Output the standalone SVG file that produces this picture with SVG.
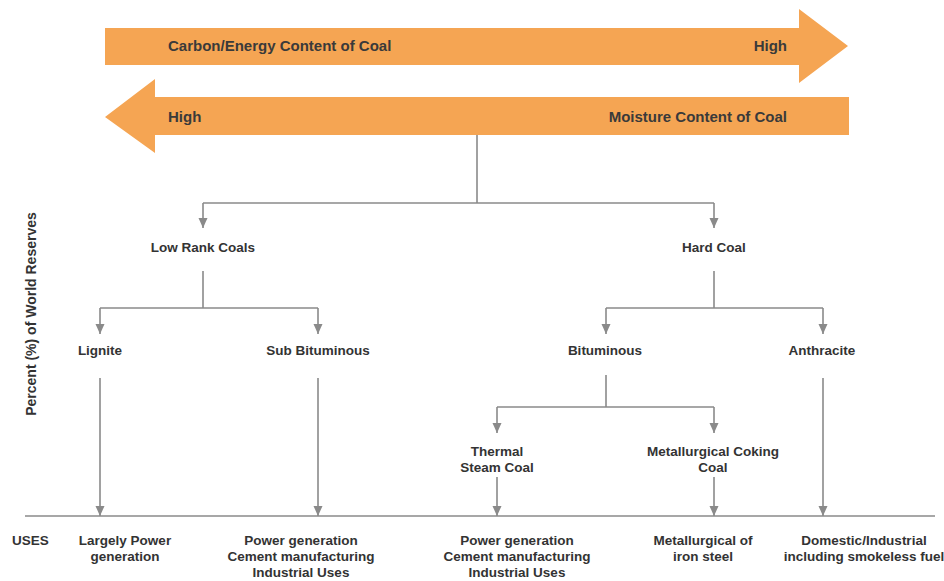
<svg xmlns="http://www.w3.org/2000/svg" width="944" height="581" viewBox="0 0 944 581">
<style>
  .band { fill: #F5A553; }
  .bandtxt { font-family: "Liberation Sans", Arial, sans-serif; font-weight: bold; font-size: 15px; fill: #3a3a3a; }
  .lbl { font-family: "Liberation Sans", Arial, sans-serif; font-weight: bold; font-size: 13.5px; fill: #333333; text-anchor: middle; }
  .conn { stroke: #8a8a8a; stroke-width: 1.6; fill: none; }
  .axis { font-family: "Liberation Sans", Arial, sans-serif; font-weight: bold; font-size: 14px; fill: #333333; text-anchor: middle; }
</style>
<defs>
  <marker id="ah" markerUnits="userSpaceOnUse" markerWidth="10" markerHeight="10" viewBox="0 0 10 10" refX="10" refY="5" orient="auto">
    <path d="M0,0.5 L10,5 L0,9.5 z" fill="#8a8a8a"/>
  </marker>
</defs>
<rect width="944" height="581" fill="#ffffff"/>

<g id="carbon-arrow">
  <polygon class="band" points="105,28 799,28 799,9 848,46 799,83 799,65 105,65"/>
  <text class="bandtxt" x="168" y="51">Carbon/Energy Content of Coal</text>
  <text class="bandtxt" x="787" y="51" text-anchor="end">High</text>
</g>
<g id="moisture-arrow">
  <polygon class="band" points="849,97 155,97 155,79 105,117 155,153 155,135 849,135"/>
  <text class="bandtxt" x="168" y="122">High</text>
  <text class="bandtxt" x="787" y="122" text-anchor="end">Moisture Content of Coal</text>
</g>

<g id="axis-label">
  <text class="axis" transform="translate(36,314) rotate(-90)">Percent (%) of World Reserves</text>
</g>

<g id="connectors">
  <path class="conn" d="M477,135 V203 M203,203 H714"/>
  <path class="conn" d="M203,203 V228" marker-end="url(#ah)"/>
  <path class="conn" d="M714,203 V228" marker-end="url(#ah)"/>
  <path class="conn" d="M203,271 V308 M100,308 H318"/>
  <path class="conn" d="M100,308 V334" marker-end="url(#ah)"/>
  <path class="conn" d="M318,308 V334" marker-end="url(#ah)"/>
  <path class="conn" d="M714,271 V308 M606,308 H823"/>
  <path class="conn" d="M606,308 V334" marker-end="url(#ah)"/>
  <path class="conn" d="M823,308 V334" marker-end="url(#ah)"/>
  <path class="conn" d="M606,375 V407 M497,407 H714"/>
  <path class="conn" d="M497,407 V433" marker-end="url(#ah)"/>
  <path class="conn" d="M714,407 V433" marker-end="url(#ah)"/>
  <path class="conn" d="M100,378 V516" marker-end="url(#ah)"/>
  <path class="conn" d="M318,378 V516" marker-end="url(#ah)"/>
  <path class="conn" d="M497,477 V516" marker-end="url(#ah)"/>
  <path class="conn" d="M714,477 V516" marker-end="url(#ah)"/>
  <path class="conn" d="M823,378 V516" marker-end="url(#ah)"/>
  <path class="conn" d="M25,516 H935"/>
</g>

<g id="low-rank"><text class="lbl" x="203" y="252">Low Rank Coals</text></g>
<g id="hard-coal"><text class="lbl" x="714" y="252">Hard Coal</text></g>
<g id="lignite"><text class="lbl" x="100" y="355">Lignite</text></g>
<g id="sub-bituminous"><text class="lbl" x="318" y="355">Sub Bituminous</text></g>
<g id="bituminous"><text class="lbl" x="605" y="355">Bituminous</text></g>
<g id="anthracite"><text class="lbl" x="822" y="355">Anthracite</text></g>
<g id="thermal"><text class="lbl" x="497" y="456">Thermal</text><text class="lbl" x="497" y="472">Steam Coal</text></g>
<g id="metallurgical"><text class="lbl" x="713" y="456">Metallurgical Coking</text><text class="lbl" x="713" y="472">Coal</text></g>

<g id="uses-label"><text class="lbl" x="12" y="545" style="text-anchor:start">USES</text></g>
<g id="use-lignite"><text class="lbl" x="125" y="545">Largely Power</text><text class="lbl" x="125" y="561">generation</text></g>
<g id="use-subbit"><text class="lbl" x="301" y="545">Power generation</text><text class="lbl" x="301" y="561">Cement manufacturing</text><text class="lbl" x="301" y="577">Industrial Uses</text></g>
<g id="use-thermal"><text class="lbl" x="517" y="545">Power generation</text><text class="lbl" x="517" y="561">Cement manufacturing</text><text class="lbl" x="517" y="577">Industrial Uses</text></g>
<g id="use-met"><text class="lbl" x="703" y="545">Metallurgical of</text><text class="lbl" x="703" y="561">iron steel</text></g>
<g id="use-anthracite"><text class="lbl" x="864" y="545">Domestic/Industrial</text><text class="lbl" x="864" y="561">including smokeless fuel</text></g>
</svg>
